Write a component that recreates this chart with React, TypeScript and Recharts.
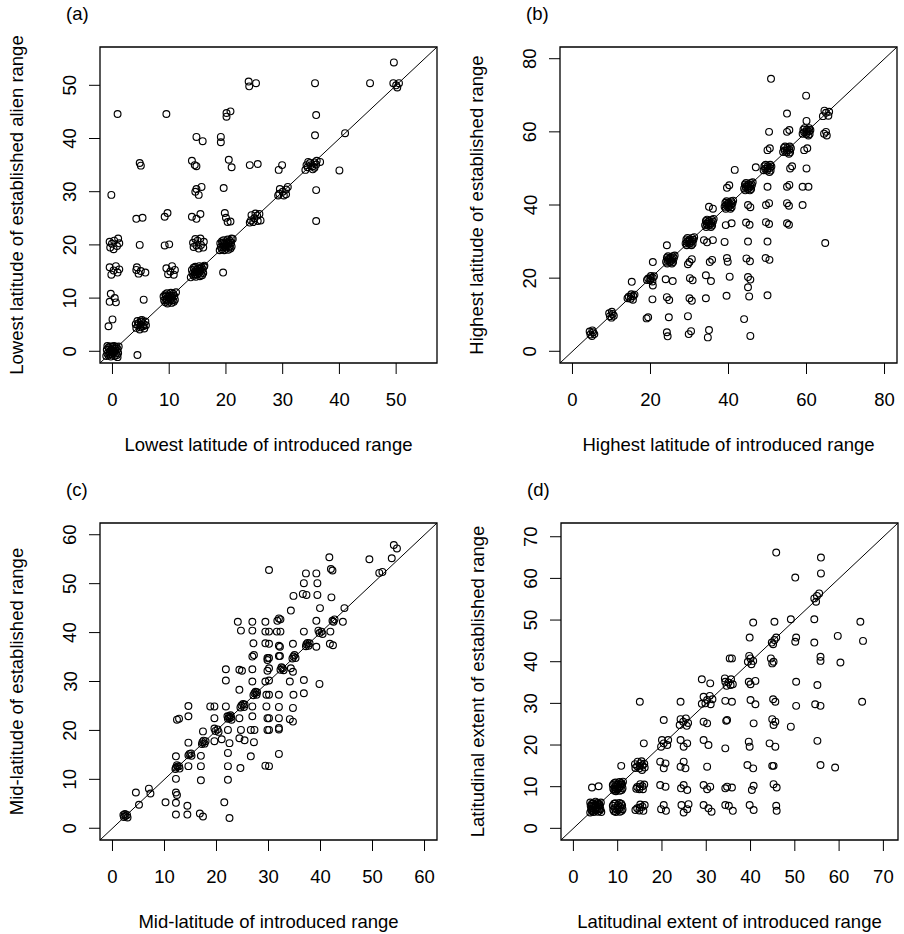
import React from 'react';
import { ScatterChart, Scatter, XAxis, YAxis, ReferenceLine, ReferenceArea } from 'recharts';

type Pt = [number, number];

const FONT = '"Liberation Sans", Arial, Helvetica, sans-serif';
const FS = 18.5;

// (a) lowest latitude
const ticksA = [0, 10, 20, 30, 40, 50];
const pointsA: Pt[] = [
  [0, 0], [0.5, 0.1], [-0.5, -0.1], [0.1, 0.5], [-0.1, -0.5], [0.9, 0.4], [-0.9, -0.4], [0.4, -0.9], [-0.4, 0.9],
  [1.0, -0.3], [-1.0, 0.3], [0.3, 1.0], [-0.3, -1.0], [0.7, 0.8], [-0.7, -0.8], [0.8, -0.7], [-0.7, 0.7], [0.2, -0.3],
  [-0.2, 0.3], [0.5, 0.5], [-0.5, -0.5], [0.6, -0.4], [-0.6, 0.4], [1.1, 0.9], [-1.1, -0.9], [0.9, -1.1], [-0.9, 1.0], [0.0, 0.9],
  [5, 5], [5.5, 5.1], [4.5, 4.9], [5.1, 5.5], [4.9, 4.5], [5.8, 5.6], [4.2, 4.4], [5.6, 4.3], [4.4, 5.7], [5.9, 4.9],
  [4.1, 5.1], [5.2, 5.9], [4.8, 4.1], [5.4, 4.7], [4.6, 5.3], [5.0, 5.8],
  [10, 10], [10.5, 10.1], [9.5, 9.9], [10.1, 10.5], [9.9, 9.5], [10.9, 10.4], [9.1, 9.6], [10.4, 9.1], [9.6, 10.9],
  [11.0, 9.7], [9.0, 10.3], [10.3, 11.0], [9.7, 9.0], [10.7, 10.8], [9.3, 9.2], [10.8, 9.3], [9.3, 10.7], [10.2, 9.7],
  [9.8, 10.3], [10.5, 10.5], [9.5, 9.5], [11.2, 11.1], [10.6, 9.6], [9.4, 10.4],
  [15, 15], [15.5, 15.1], [14.5, 14.9], [15.1, 15.5], [14.9, 14.5], [15.9, 15.4], [14.1, 14.6], [15.4, 14.1], [14.6, 15.9],
  [16.0, 14.7], [14.0, 15.3], [15.3, 16.0], [14.7, 14.0], [15.7, 15.8], [14.3, 14.2], [15.8, 14.3], [14.3, 15.7], [15.2, 14.7],
  [14.8, 15.3], [15.5, 15.5], [14.5, 14.5], [16.2, 16.1], [15.6, 14.6], [14.4, 15.4], [13.8, 13.9], [16.1, 15.9],
  [20, 20], [20.5, 20.1], [19.5, 19.9], [20.1, 20.5], [19.9, 19.5], [20.9, 20.4], [19.1, 19.6], [20.4, 19.1], [19.6, 20.9],
  [21.0, 19.7], [19.0, 20.3], [20.3, 21.0], [19.7, 19.0], [20.7, 20.8], [19.3, 19.2], [20.8, 19.3], [19.3, 20.7], [20.2, 19.7],
  [19.8, 20.3], [20.5, 20.5], [19.5, 19.5], [21.2, 21.1], [20.6, 19.6], [19.4, 20.4], [18.9, 19.0], [21.0, 21.2],
  [25, 25], [24.4, 24.6], [25.6, 24.5], [24.5, 25.6], [25.5, 25.5], [26.1, 24.6], [24.8, 24.3], [25.2, 25.9], [24.2, 24.2], [25.9, 25.8],
  [30, 30], [29.4, 29.6], [30.6, 29.5], [29.5, 30.5], [30.6, 30.4], [29.2, 29.3], [30.2, 29.3], [30.9, 30.9],
  [35, 35], [34.4, 34.6], [35.6, 34.5], [34.5, 35.6], [35.6, 35.5], [34.2, 35.0], [35.3, 34.2], [36.0, 35.8],
  [34.8, 35.4], [35.3, 34.8], [34.0, 34.1], [35.9, 35.1],
  [50, 50], [49.5, 50.4], [50.5, 50.4], [50.2, 49.6],
  [0.9, 44.6], [9.5, 44.6], [20.1, 44.8], [20.8, 45.1], [20.1, 44.1],
  [14.8, 40.3], [15.9, 39.5], [19.1, 40.3], [19.1, 39.3],
  [4.8, 35.4], [5.0, 34.9], [14.0, 35.8], [14.5, 35.0], [14.8, 34.8], [20.5, 36.0], [21.0, 34.6],
  [24.2, 35.0], [25.6, 35.2], [29.9, 35.0], [29.3, 34.1],
  [-0.2, 29.4], [14.8, 30.5], [15.7, 30.9], [15.2, 29.4], [14.6, 30.0], [19.6, 30.7],
  [4.2, 24.9], [5.3, 25.1], [9.2, 25.3], [9.7, 26.0], [14.0, 25.3], [14.8, 24.9], [15.5, 25.8],
  [19.8, 26.0], [20.0, 25.1], [20.3, 24.3], [20.8, 24.4],
  [-0.4, 19.5], [0.3, 20.8], [0.8, 19.8], [-0.5, 20.6], [1.2, 20.3], [0.2, 19.2], [1.0, 21.2], [-0.1, 20.2],
  [4.8, 20.0], [9.2, 19.9], [10.0, 20.1],
  [14.3, 19.6], [15.0, 20.8], [15.6, 20.0], [14.6, 21.1], [16.1, 20.6], [15.2, 19.3], [14.2, 20.4], [16.0, 19.5],
  [15.5, 21.2], [14.8, 19.9], [19.5, 14.8],
  [-0.5, 15.8], [0.2, 15.2], [0.9, 14.8], [-0.2, 14.4], [0.6, 16.0], [1.2, 15.4],
  [4.3, 15.8], [5.0, 15.1], [5.8, 14.8], [4.6, 14.6], [4.2, 15.3],
  [9.5, 15.6], [10.2, 15.0], [10.8, 14.4], [9.8, 14.5], [11.0, 15.3], [10.5, 16.0],
  [-0.3, 10.8], [0.4, 10.0], [-0.5, 9.3], [0.6, 9.2], [5.5, 9.7],
  [0.0, 6.0], [-0.7, 4.7], [4.4, -0.7],
  [24.0, 50.7], [25.3, 50.4], [24.1, 49.8],
  [35.7, 50.4], [35.9, 44.4], [35.7, 40.6], [35.9, 30.3], [35.9, 24.5], [36.6, 35.6],
  [41.0, 41.0], [40.0, 34.0], [45.4, 50.4], [49.6, 54.3],
];

// (b) highest latitude
const ticksB = [0, 20, 40, 60, 80];
const pointsB: Pt[] = [
  [4.6, 4.6], [5.3, 5.2], [5.0, 4.2], [4.4, 5.4], [5.6, 4.7], [5.1, 5.7],
  [9.6, 9.6], [10.3, 10.2], [10.0, 9.2], [9.4, 10.4], [10.6, 9.7], [10.1, 10.8],
  [15, 15], [15.6, 15.1], [14.4, 14.9], [15.1, 15.6], [14.9, 14.4], [15.9, 15.5], [14.1, 14.5], [15.5, 14.1],
  [20, 20], [20.6, 20.1], [19.4, 19.9], [20.1, 20.6], [19.9, 19.4], [20.9, 20.5], [19.1, 19.5], [20.5, 19.1],
  [25, 25], [25.6, 25.1], [24.4, 24.9], [25.1, 25.6], [24.9, 24.4], [26.0, 25.5], [24.0, 24.5], [25.5, 24.0],
  [24.5, 26.0], [25.8, 24.4], [24.2, 25.6], [25.7, 26.0], [24.3, 24.0], [25.3, 24.7], [24.7, 25.3], [26.2, 26.2],
  [30, 30], [30.6, 30.1], [29.4, 29.9], [30.1, 30.6], [29.9, 29.4], [31.0, 30.5], [29.0, 29.5], [30.5, 29.0],
  [29.5, 31.0], [30.8, 29.4], [29.2, 30.6], [30.7, 31.0], [29.3, 29.0], [30.3, 29.7], [29.7, 30.3], [31.2, 31.2],
  [35, 35], [35.6, 35.1], [34.4, 34.9], [35.1, 35.6], [34.9, 34.4], [36.0, 35.5], [34.0, 34.5], [35.5, 34.0],
  [34.5, 36.0], [35.8, 34.4], [34.2, 35.6], [35.7, 36.0], [34.3, 34.0], [35.3, 34.7], [34.7, 35.3], [36.2, 36.2],
  [40, 40], [40.6, 40.1], [39.4, 39.9], [40.1, 40.6], [39.9, 39.4], [41.0, 40.5], [39.0, 39.5], [40.5, 39.0],
  [39.5, 41.0], [40.8, 39.4], [39.2, 40.6], [40.7, 41.0], [39.3, 39.0], [40.3, 39.7], [39.7, 40.3], [41.2, 41.2],
  [45, 45], [45.6, 45.1], [44.4, 44.9], [45.1, 45.6], [44.9, 44.4], [46.0, 45.5], [44.0, 44.5], [45.5, 44.0],
  [44.5, 46.0], [45.8, 44.4], [44.2, 45.6], [45.7, 46.0], [44.3, 44.0], [45.3, 44.7], [44.7, 45.3], [46.2, 46.2],
  [50, 50], [50.6, 50.1], [49.4, 49.9], [50.1, 50.6], [49.9, 49.4], [51.0, 50.5], [49.0, 49.5], [50.5, 49.0],
  [49.5, 51.0], [50.8, 49.4], [49.2, 50.6], [50.7, 51.0],
  [55, 55], [55.6, 55.1], [54.4, 54.9], [55.1, 55.6], [54.9, 54.4], [56.0, 55.5], [54.0, 54.5], [55.5, 54.0],
  [54.5, 56.0], [55.8, 54.4], [54.2, 55.6], [55.7, 56.0],
  [60, 60], [60.6, 60.1], [59.4, 59.9], [60.1, 60.6], [59.9, 59.4], [61.0, 60.5], [59.0, 59.5], [60.5, 59.0],
  [59.5, 61.0], [60.8, 59.4], [59.2, 60.6], [60.7, 61.0],
  [64.2, 64.3], [65.0, 65.2], [65.8, 65.5], [64.6, 65.8], [65.6, 64.4],
  [15.2, 19.0], [20.6, 18.0], [19.0, 9.0], [19.4, 9.3], [20.5, 14.2], [20.6, 24.4],
  [24.2, 29.0], [23.9, 19.7], [25.7, 19.2], [24.2, 14.8], [24.8, 14.0], [24.7, 9.3], [24.2, 5.2], [24.4, 4.1],
  [30.0, 24.4], [30.6, 25.2], [29.6, 23.8], [30.1, 20.0], [30.8, 19.4], [30.0, 14.5], [30.6, 13.8],
  [29.6, 9.6], [29.8, 4.7], [30.4, 5.5],
  [33.7, 30.4], [34.5, 29.8], [36.0, 30.4], [35.2, 24.4], [35.8, 25.0], [34.2, 20.8], [35.5, 19.2],
  [34.2, 14.5], [35.0, 5.8], [34.7, 3.8], [35.0, 39.5], [36.0, 39.0],
  [39.3, 34.5], [40.8, 35.0], [39.0, 29.9], [39.6, 25.5], [39.8, 24.5],
  [39.6, 44.7], [40.2, 45.4], [41.6, 49.6], [40.3, 20.4], [39.5, 15.2],
  [45.0, 40.0], [45.6, 39.4], [44.5, 35.2], [45.4, 34.6], [45.0, 30.0], [44.6, 25.4], [45.5, 24.6],
  [45.0, 20.3], [45.6, 19.6], [45.0, 17.5], [45.3, 15.0], [44.0, 8.8], [45.6, 4.2],
  [47.0, 50.3], [50.0, 55.0], [50.6, 55.5], [50.4, 60.0], [50.9, 74.5], [50.0, 45.0], [49.6, 40.0], [50.4, 40.5],
  [49.6, 35.3], [50.4, 34.8], [50.0, 30.0], [49.5, 25.5], [50.5, 25.0], [50.0, 15.3],
  [55.0, 65.0], [55.0, 60.0], [55.6, 60.5], [55.8, 50.0], [56.3, 50.6], [55.0, 45.0], [55.6, 45.5],
  [55.0, 40.5], [55.5, 39.8], [55.0, 35.0], [55.5, 34.6],
  [59.9, 69.9], [60.0, 63.0], [59.4, 55.0], [60.2, 55.5], [60.0, 50.0], [59.0, 45.0], [60.5, 45.0], [59.0, 40.0],
  [65.0, 60.0], [64.5, 59.5], [65.2, 59.0], [64.8, 29.6],
];

// (c) mid-latitude
const ticksC = [0, 10, 20, 30, 40, 50, 60];
const pointsC: Pt[] = [
  [2.2, 2.3], [2.8, 2.7], [2.4, 2.9], [2.9, 2.2], [2.5, 2.5], [2.1, 2.7],
  [12.2, 12.4], [12.8, 12.7], [12.4, 12.9], [12.9, 12.2], [12.5, 12.6], [12.1, 12.1],
  [14.8, 15.2], [15.2, 14.8], [14.6, 14.9], [15.1, 15.3],
  [17.3, 17.6], [17.7, 17.3], [17.5, 17.9], [17.9, 17.8], [17.2, 17.2],
  [19.8, 19.9], [20.2, 20.2], [20.4, 19.7], [19.6, 20.4],
  [22.2, 22.4], [22.8, 22.7], [22.4, 22.9], [22.9, 22.2], [22.5, 22.5], [22.1, 22.9], [22.7, 23.1],
  [24.8, 25.1], [25.3, 24.8], [25.1, 25.4], [24.6, 24.7], [25.4, 25.3],
  [27.3, 27.6], [27.7, 27.3], [27.5, 27.9], [27.1, 27.2], [27.8, 27.8],
  [30.1, 30.2], [32.3, 32.4], [32.7, 32.7], [32.5, 32.9], [32.9, 32.3],
  [34.8, 35.1], [35.2, 34.8], [35.0, 35.4], [34.6, 34.7],
  [37.3, 37.6], [37.7, 37.3], [37.5, 37.9], [37.9, 37.8], [37.2, 37.2],
  [39.8, 39.9], [40.2, 40.2], [40.4, 39.7], [39.6, 40.4],
  [42.3, 42.4], [42.7, 42.7], [42.5, 42.2],
  [5.1, 4.8], [4.5, 7.3], [7.0, 8.1], [7.3, 7.1], [10.2, 5.3], [12.2, 7.3], [12.4, 6.8], [12.2, 5.2],
  [12.2, 2.8], [14.4, 2.8], [14.4, 4.6], [16.8, 3.0], [17.4, 2.4],
  [12.2, 10.1], [12.2, 14.7], [14.6, 17.5], [14.6, 12.7], [17.0, 14.8], [17.0, 12.7], [17.0, 9.8],
  [17.4, 19.8], [19.6, 22.5], [19.6, 24.9], [18.8, 24.9], [19.6, 17.8], [21.0, 18.2],
  [14.6, 25.0], [14.6, 22.9], [12.4, 22.2], [12.8, 22.4],
  [21.8, 24.9], [22.2, 20.1], [22.5, 17.4], [22.2, 15.4], [22.2, 12.7], [22.2, 9.9], [21.5, 5.3], [22.5, 2.1],
  [24.4, 22.5], [24.7, 20.1], [24.4, 18.4], [25.4, 18.0], [24.6, 12.3], [26.6, 20.1], [27.3, 20.1],
  [27.2, 17.6], [26.6, 14.7], [29.4, 12.8],
  [26.9, 22.9], [26.9, 24.9], [26.9, 30.0], [26.9, 32.5], [26.9, 35.1], [27.2, 35.4], [24.4, 28.3],
  [24.4, 32.4], [24.9, 32.2], [21.8, 32.5], [21.8, 30.2],
  [29.8, 34.4], [29.8, 32.2], [29.4, 30.0], [29.6, 27.3], [32.0, 27.3], [29.6, 24.9], [32.0, 24.8],
  [29.8, 22.5], [32.0, 22.5], [29.8, 20.1], [32.0, 20.2], [32.0, 35.2], [32.0, 15.2],
  [24.1, 42.2], [24.7, 40.4], [26.9, 42.2], [26.9, 40.4], [29.4, 42.2], [29.4, 40.2], [32.0, 42.9],
  [31.6, 40.2], [27.1, 37.8], [29.4, 37.8], [32.0, 37.3], [29.8, 34.8],
  [54.1, 57.9], [54.7, 57.2], [53.7, 55.2], [51.9, 52.4], [51.3, 52.2], [49.4, 55.0], [41.7, 55.4],
  [42.3, 52.7], [42.0, 53.0], [37.2, 52.1], [39.2, 52.1], [36.8, 50.1], [39.4, 50.1], [30.1, 52.8],
  [34.8, 47.5], [36.6, 47.9], [37.3, 47.7], [39.4, 47.7], [42.1, 47.2], [34.3, 44.5], [39.9, 45.0],
  [44.6, 45.0], [31.7, 42.4], [32.3, 42.7], [39.2, 42.4], [44.3, 42.2], [30.1, 40.2], [32.3, 40.2],
  [36.8, 40.2], [41.9, 40.2], [30.1, 37.7], [32.2, 37.1], [34.7, 37.7], [39.2, 37.1], [41.8, 37.7],
  [42.4, 37.4], [30.1, 34.8], [32.2, 35.2], [30.1, 32.7], [34.3, 32.7], [34.7, 32.0], [34.1, 30.0],
  [36.8, 30.3], [39.8, 29.5], [30.1, 27.3], [34.8, 27.3], [36.8, 27.6], [34.7, 24.6], [30.1, 22.5],
  [34.1, 22.3], [34.7, 21.8], [30.1, 20.1], [32.0, 20.5], [30.1, 12.7],
];

// (d) latitudinal extent
const ticksD = [0, 10, 20, 30, 40, 50, 60, 70];
const pointsD: Pt[] = [
  [5, 5], [5.6, 5.1], [4.4, 4.9], [5.1, 5.6], [4.9, 4.4], [6.0, 5.5], [4.0, 4.5], [5.5, 4.0], [4.5, 6.0], [6.1, 4.6],
  [3.9, 5.4], [5.4, 6.1], [4.6, 3.9], [5.8, 5.9], [4.2, 4.1], [5.9, 4.2], [4.2, 5.9], [5.3, 4.6], [4.7, 5.4], [5.6, 5.6],
  [4.4, 4.4], [6.2, 6.2], [5.8, 4.7], [4.2, 5.3], [3.8, 3.8], [6.3, 3.9], [3.8, 6.2], [5.0, 6.4],
  [10, 10], [10.6, 10.1], [9.4, 9.9], [10.1, 10.6], [9.9, 9.4], [11.0, 10.5], [9.0, 9.5], [10.5, 9.0], [9.5, 11.0],
  [11.1, 9.6], [8.9, 10.4], [10.4, 11.1], [9.6, 8.9], [10.8, 10.9], [9.2, 9.1], [10.9, 9.2], [9.2, 10.8], [10.3, 9.6],
  [9.7, 10.4], [10.6, 10.6], [9.4, 9.4], [11.2, 11.2],
  [10, 5], [10.6, 5.1], [9.4, 4.9], [10.1, 5.6], [9.9, 4.4], [11.0, 5.5], [9.0, 4.5], [10.5, 4.0], [9.5, 6.0],
  [11.1, 4.6], [8.9, 5.4], [10.4, 6.1], [9.6, 3.9], [10.8, 5.9], [9.2, 4.1], [10.9, 4.2], [9.2, 5.9], [10.3, 4.6],
  [15, 15], [15.6, 15.1], [14.4, 14.9], [15.1, 15.6], [14.9, 14.4], [16.0, 15.5], [14.0, 14.5], [15.5, 14.0],
  [14.5, 16.0], [16.1, 14.6], [13.9, 15.4], [15.4, 16.1],
  [15, 10], [15.6, 10.1], [14.4, 9.9], [15.1, 10.6], [14.9, 9.4], [16.0, 10.5], [14.2, 9.5], [15.7, 9.4],
  [15, 5], [15.6, 5.2], [14.4, 4.8], [15.1, 5.7], [14.9, 4.3], [16.1, 5.6], [14.0, 4.4], [15.8, 4.2],
  [20.4, 20.4], [19.8, 19.6], [21.2, 20.0], [20.0, 21.2], [21.4, 21.2],
  [19.6, 16.0], [20.4, 14.4], [20.8, 15.6], [19.6, 10.4], [20.8, 10.0], [20.4, 5.6], [19.8, 4.6], [20.9, 4.2],
  [24.8, 25.6], [24.0, 24.8], [25.6, 24.6], [24.2, 26.2], [25.4, 26.4], [25.9, 25.3],
  [24.2, 21.2], [24.9, 19.6], [25.7, 20.4], [24.9, 16.0], [25.3, 14.4], [24.2, 14.8],
  [24.9, 10.4], [25.7, 9.2], [24.3, 9.6], [24.4, 5.6], [24.9, 3.8], [25.7, 4.6], [26.0, 5.8],
  [30.2, 30.8], [29.0, 29.9], [31.0, 29.8], [29.4, 31.6], [30.8, 31.8], [31.4, 31.0], [29.8, 30.0],
  [29.4, 25.6], [30.2, 25.2], [29.4, 21.2], [30.5, 20.0], [30.2, 14.8],
  [29.4, 10.4], [30.9, 10.0], [30.2, 9.4], [29.4, 5.6], [30.5, 4.8], [31.2, 4.0],
  [35.0, 35.0], [34.3, 35.2], [35.5, 34.4], [34.6, 34.2], [35.6, 35.8], [34.2, 36.0],
  [4.2, 9.8], [5.7, 10.1], [10.8, 15.0], [15.9, 20.4], [15.0, 30.4], [20.4, 26.0], [24.2, 30.4],
  [29.0, 35.8], [30.9, 34.8], [35.3, 40.8], [34.7, 26.0], [34.3, 19.2], [34.7, 10.0], [34.3, 5.6],
  [45.8, 66.2], [55.9, 65.0], [55.9, 61.2], [50.1, 60.2],
  [55.0, 55.8], [54.4, 55.2], [55.5, 56.4], [54.8, 54.4],
  [40.6, 49.4], [45.4, 49.6], [49.1, 50.2], [54.4, 50.2], [64.8, 49.6],
  [39.8, 45.8], [45.4, 45.2], [44.8, 44.6], [45.8, 45.8], [45.1, 44.2],
  [50.3, 45.8], [50.1, 44.8], [54.4, 44.6], [59.7, 46.2], [65.4, 45.0],
  [35.8, 40.8], [40.0, 40.8], [39.4, 40.0], [40.6, 40.2], [40.2, 39.4], [39.7, 41.4],
  [44.6, 40.8], [45.2, 40.0], [44.9, 39.6], [55.8, 41.2], [55.8, 40.2], [60.3, 39.8],
  [36.0, 34.6], [39.6, 35.2], [40.0, 34.6], [41.1, 35.4], [50.3, 35.2], [55.1, 34.4],
  [34.3, 30.6], [35.8, 30.4], [40.0, 30.8], [41.1, 29.8], [45.1, 31.0], [45.6, 30.4], [50.3, 29.4],
  [54.6, 29.8], [55.8, 29.4], [65.2, 30.4],
  [34.5, 25.8], [40.7, 25.2], [44.9, 26.2], [45.2, 24.8], [45.6, 25.6], [49.1, 24.4],
  [39.6, 20.8], [39.8, 19.6], [44.3, 20.4], [45.6, 19.6], [55.1, 21.0],
  [39.3, 15.2], [40.6, 14.4], [44.9, 15.0], [45.2, 15.0], [55.8, 15.2], [59.1, 14.6],
  [34.3, 9.6], [35.8, 9.8], [40.7, 10.2], [40.3, 9.2], [45.2, 10.6], [45.9, 9.8],
  [35.1, 5.4], [36.0, 4.2], [39.8, 5.6], [40.7, 4.4], [45.8, 5.4], [45.9, 4.2],
];

const W = 452;
const H = 467;

type Cfg = {
  tag: string; left: number; top: number;
  plotLeft: number; plotRight: number; plotTop: number; plotBottom: number;
  lo: number; hi: number; ticks: number[]; points: Pt[];
  xTitle: string; yTitle: string;
};

const PANELS: Cfg[] = [
  { tag: '(a)', left: 0, top: 0, plotLeft: 100, plotRight: 437, plotTop: 47, plotBottom: 363,
    lo: -2.2, hi: 57.2, ticks: ticksA, points: pointsA,
    xTitle: 'Lowest latitude of introduced range', yTitle: 'Lowest latitude of established alien range' },
  { tag: '(b)', left: 452, top: 0, plotLeft: 108, plotRight: 445, plotTop: 47, plotBottom: 363,
    lo: -3.2, hi: 83.2, ticks: ticksB, points: pointsB,
    xTitle: 'Highest latitude of introduced range', yTitle: 'Highest latitude of established range' },
  { tag: '(c)', left: 0, top: 467, plotLeft: 100, plotRight: 437, plotTop: 56, plotBottom: 373,
    lo: -2.4, hi: 62.4, ticks: ticksC, points: pointsC,
    xTitle: 'Mid-latitude of introduced range', yTitle: 'Mid-latitude of established range' },
  { tag: '(d)', left: 452, top: 467, plotLeft: 109, plotRight: 446, plotTop: 56, plotBottom: 373,
    lo: -2.8, hi: 73.3, ticks: ticksD, points: pointsD,
    xTitle: 'Latitudinal extent of introduced range', yTitle: 'Latitudinal extent of established range' },
];

// own prop names so that recharts' injected x/y do not move the text
const AxisText = ({ tx, ty, rot, text }: { tx: number; ty: number; rot?: boolean; text: string }) => (
  <text x={tx} y={ty} transform={rot ? `rotate(-90 ${tx} ${ty})` : undefined} textAnchor="middle"
    fontSize={FS} fontFamily={FONT} fill="#000">
    {text}
  </text>
);

const Ring = (props: any) => (
  <circle cx={props.cx} cy={props.cy} r={3.4} fill="none" stroke="#000" strokeWidth={1.15} />
);

function Panel({ cfg }: { cfg: Cfg }) {
  const data = cfg.points.map(([x, y]) => ({ x, y }));
  const midX = (cfg.plotLeft + cfg.plotRight) / 2;
  const midY = (cfg.plotTop + cfg.plotBottom) / 2;
  const xLabBase = cfg.plotBottom + 43;
  const yLabBase = cfg.plotLeft - 23.5;
  const yTitleX = cfg.plotLeft - 77;
  return (
    <div style={{ position: 'absolute', left: cfg.left, top: cfg.top, width: W, height: H }}>
      <ScatterChart width={W} height={H} margin={{ top: cfg.plotTop, right: W - cfg.plotRight, bottom: 0, left: 0 }}>
        <XAxis
          type="number" dataKey="x" domain={[cfg.lo, cfg.hi]} ticks={cfg.ticks} interval={0}
          allowDataOverflow axisLine={false} tickSize={11} tickMargin={19.5}
          tickLine={{ stroke: '#000', strokeWidth: 1 }} height={H - cfg.plotBottom}
          tick={(p: any) => <AxisText key={p.index} tx={p.x} ty={xLabBase} text={String(p.payload.value)} />}
          label={<AxisText tx={midX} ty={cfg.plotBottom + 88} text={cfg.xTitle} />}
        />
        <YAxis
          type="number" dataKey="y" domain={[cfg.lo, cfg.hi]} ticks={cfg.ticks} interval={0}
          allowDataOverflow axisLine={false} tickSize={11} tickMargin={19.5}
          tickLine={{ stroke: '#000', strokeWidth: 1 }} width={cfg.plotLeft}
          tick={(p: any) => <AxisText key={p.index} tx={yLabBase} ty={p.y} rot text={String(p.payload.value)} />}
          label={
            <g>
              <AxisText tx={yTitleX} ty={midY} rot text={cfg.yTitle} />
              <text x={cfg.plotLeft - 34} y={cfg.plotTop - 27} fontSize={FS} fontFamily={FONT} fill="#000">
                {cfg.tag}
              </text>
            </g>
          }
        />
        <ReferenceArea x1={cfg.lo} x2={cfg.hi} y1={cfg.lo} y2={cfg.hi} fill="none" fillOpacity={0}
          stroke="#000" strokeWidth={1.3} ifOverflow="visible" />
        <ReferenceLine segment={[{ x: cfg.lo, y: cfg.lo }, { x: cfg.hi, y: cfg.hi }]} stroke="#000"
          strokeWidth={1} ifOverflow="visible" />
        <Scatter data={data} shape={Ring} isAnimationActive={false} />
      </ScatterChart>
    </div>
  );
}

export default function App() {
  return (
    <div style={{ position: 'absolute', left: 0, top: 0, width: 904, height: 934, background: '#fff', fontFamily: FONT }}>
      {PANELS.map((p) => (
        <Panel key={p.tag} cfg={p} />
      ))}
    </div>
  );
}
